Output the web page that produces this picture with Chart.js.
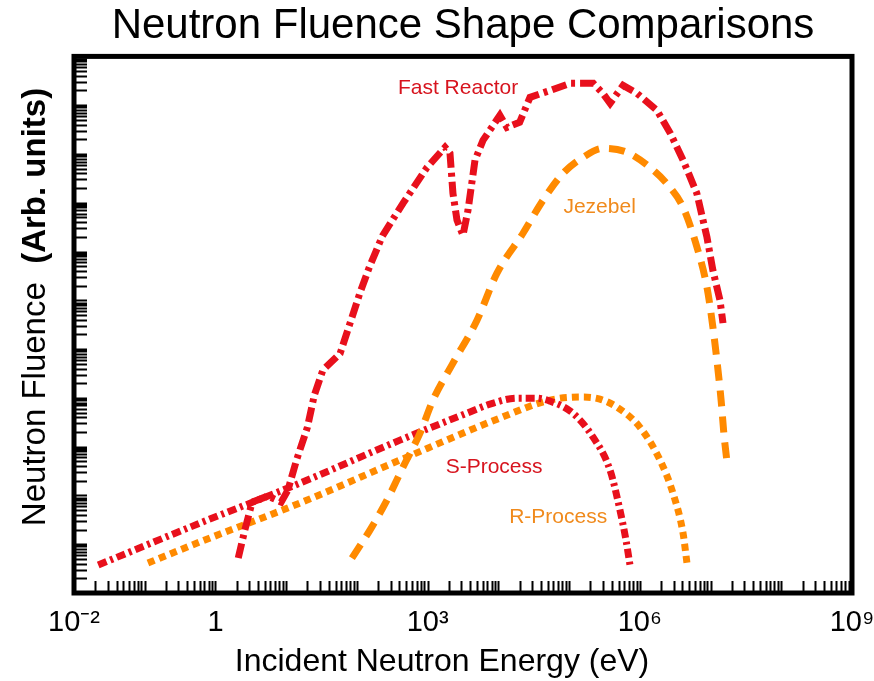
<!DOCTYPE html>
<html>
<head>
<meta charset="utf-8">
<title>Neutron Fluence Shape Comparisons</title>
<script src="https://cdn.jsdelivr.net/npm/chart.js@4.4.1/dist/chart.umd.min.js"></script>
<style>
  body { margin: 0; background: #fff; }
  canvas { display: block; }
</style>
</head>
<body>
<canvas id="grafico" width="874" height="681"></canvas>
<script>
// valores: energia en eV, fluencia en unidades arbitrarias
const fastEnergy = [2.1, 2.6, 3.3, 5.5, 8.5, 10.6, 14, 20, 25, 33, 58, 80, 110, 150, 230, 450, 980,
  1760, 2070, 2280, 2600, 3160, 3720, 4670, 6060, 1.05e4, 1.32e4, 2.0e4, 2.8e4, 5.4e4, 1.03e5,
  2.2e5, 3.0e5, 3.8e5, 5.8e5, 9.1e5, 1.75e6, 2.7e6, 4.1e6, 6.4e6, 8.9e6, 1.08e7, 1.36e7, 1.5e7];
const fastFluence = [5.2, 19.5, 73, 97, 73, 129, 531, 2520, 1.14e4, 3.7e4, 8.2e4, 3.4e5, 1.4e6,
  4.8e6, 2.1e7, 9.8e7, 5.3e8, 1.37e9, 1.03e9, 1.56e8, 4.4e7, 2.15e7, 7.0e7, 7.4e8, 1.9e9, 6.2e9,
  3.5e9, 4.45e9, 1.45e10, 2.0e10, 2.8e10, 2.8e10, 1.75e10, 1.09e10, 2.55e10, 1.75e10, 7.8e9,
  2.65e9, 7.4e8, 1.56e8, 1.96e7, 4.1e6, 1.0e6, 3.4e5];

const jezebelEnergy = [85, 153, 266, 448, 780, 1190, 2280, 4990, 9560, 2.23e4, 4.27e4, 8.2e4,
  1.57e5, 3.0e5, 6.6e5, 1.39e6, 2.67e6, 4.08e6, 6.43e6, 8.9e6, 1.08e7, 1.23e7, 1.41e7, 1.55e7, 1.71e7];
const jezebelFluence = [5.2, 19.5, 80, 381, 1900, 9000, 5.15e4, 3.9e5, 3.6e6, 2.37e7, 1.12e8, 4.0e8,
  8.5e8, 1.3e9, 1.08e9, 5.3e8, 2.07e8, 8.1e7, 1.22e7, 1.85e6, 2.8e5, 5.9e4, 9000, 1730, 483];

const sEnergy = [0.022, 0.6, 15.7, 406, 3600, 7610, 1.83e4, 3.3e4, 5.37e4, 1.13e5, 2.18e5, 3.79e5,
  5.24e5, 6.37e5, 7.26e5];
const sFluence = [3.75, 27, 179, 1360, 4870, 7450, 9880, 9880, 8580, 4870, 1570, 331, 50, 12.2, 3.75];

const rEnergy = [0.111, 0.6, 15.7, 406, 1.05e4, 5.37e4, 1.57e5, 2.73e5, 4.75e5, 1.0e6, 1.93e6,
  2.94e6, 4.08e6, 4.64e6];
const rFluence = [4.12, 11.1, 70, 531, 3850, 9000, 1.04e4, 9420, 6460, 2520, 531, 112, 17, 4.12];

const xTicks = [1e-2, 1, 1e3, 1e6, 1e9];
const xTickLabels = ["10⁻²", "1", "10³", "10⁶", "10⁹"];

const rojo = "#e8101c";
const naranja = "#ff8a00";
const fuente = "'Liberation Sans', Arial, Helvetica, sans-serif";

// etiquetas de las curvas (en coordenadas de datos)
const curveLabels = [
  { text: "Fast Reactor", x: 2690, y: 2.2e10, color: "#d7141e" },
  { text: "Jezebel", x: 2.7e5, y: 8.1e7, color: "#f08a1c" },
  { text: "S-Process", x: 8700, y: 380, color: "#d7141e" },
  { text: "R-Process", x: 7.0e4, y: 36, color: "#f08a1c" }
];

function puntos(xs, ys) {
  return xs.map((v, i) => ({ x: v, y: ys[i] }));
}

const marco = {
  id: "marco",
  afterDraw(chart) {
    const ctx = chart.ctx;
    const a = chart.chartArea;
    const sx = chart.scales.x;
    const sy = chart.scales.y;
    ctx.save();
    ctx.strokeStyle = "#000";
    ctx.lineWidth = 2;
    ctx.beginPath();
    for (let k = -2; k < 9; k++) {
      for (let m = 1; m < 10; m++) {
        const px = Math.round(sx.getPixelForValue(m * Math.pow(10, k))) + 0.5;
        ctx.moveTo(px, a.bottom);
        ctx.lineTo(px, a.bottom - 12);
      }
    }
    for (let k = 0; k < 11; k++) {
      for (let m = 1; m < 10; m++) {
        const py = Math.round(sy.getPixelForValue(m * Math.pow(10, k))) + 0.5;
        ctx.moveTo(a.left, py);
        ctx.lineTo(a.left + 13, py);
      }
    }
    ctx.stroke();
    ctx.lineWidth = 5;
    ctx.strokeRect(a.left, a.top, a.right - a.left, a.bottom - a.top);

    // etiquetas de curvas
    ctx.font = "21px " + fuente;
    ctx.textAlign = "center";
    ctx.textBaseline = "middle";
    curveLabels.forEach(l => {
      ctx.fillStyle = l.color;
      ctx.fillText(l.text, sx.getPixelForValue(l.x), sy.getPixelForValue(l.y));
    });

    // titulo eje x
    ctx.fillStyle = "#000";
    ctx.font = "32px " + fuente;
    ctx.fillText("Incident Neutron Energy (eV)", 442, 662);

    // titulo eje y (parte en negrita)
    const p1 = "Neutron Fluence  ";
    const p2 = "(Arb. units)";
    ctx.font = "33px " + fuente;
    const w1 = ctx.measureText(p1).width;
    ctx.font = "bold 33px " + fuente;
    const w2 = ctx.measureText(p2).width;
    ctx.translate(36, 307);
    ctx.rotate(-Math.PI / 2);
    ctx.textAlign = "left";
    ctx.font = "33px " + fuente;
    ctx.fillText(p1, -(w1 + w2) / 2, 0);
    ctx.font = "bold 33px " + fuente;
    ctx.fillText(p2, -(w1 + w2) / 2 + w1, 0);
    ctx.restore();
  }
};

window.onload = function(){
  let ctx = document.getElementById("grafico").getContext("2d");
  let grafico = new Chart(ctx, {
    type: "line",
    data: {
      datasets: [{
        label: "Fast Reactor",
        data: puntos(fastEnergy, fastFluence),
        borderColor: rojo,
        borderWidth: 7,
        borderDash: [15, 5, 4, 5],
        pointRadius: 0,
        tension: 0
      }, {
        label: "Jezebel",
        data: puntos(jezebelEnergy, jezebelFluence),
        borderColor: naranja,
        borderWidth: 7,
        borderDash: [16, 10],
        pointRadius: 0,
        cubicInterpolationMode: "monotone"
      }, {
        label: "S-Process",
        data: puntos(sEnergy, sFluence),
        borderColor: rojo,
        borderWidth: 7,
        borderDash: [9, 4, 3, 4],
        pointRadius: 0,
        cubicInterpolationMode: "monotone"
      }, {
        label: "R-Process",
        data: puntos(rEnergy, rFluence),
        borderColor: naranja,
        borderWidth: 7,
        borderDash: [7, 5],
        pointRadius: 0,
        cubicInterpolationMode: "monotone"
      }]
    },
    options: {
      responsive: false,
      animation: false,
      layout: { padding: { left: 0, right: 22, top: 0, bottom: 0 } },
      plugins: {
        legend: { display: false },
        tooltip: { enabled: false },
        title: {
          display: true,
          fullSize: false,
          text: "Neutron Fluence Shape Comparisons",
          color: "#000",
          font: { family: fuente, size: 42, weight: "normal" },
          padding: { top: 1, bottom: 5 }
        }
      },
      scales: {
        x: {
          type: "logarithmic",
          min: 1e-2,
          max: 1e9,
          grid: { display: false, drawTicks: false },
          border: { display: false },
          afterBuildTicks: s => { s.ticks = xTicks.map(v => ({ value: v })); },
          afterFit: s => { s.height = 88; s.paddingLeft = 0; s.paddingRight = 0; },
          ticks: {
            autoSkip: false,
            maxRotation: 0,
            padding: 13,
            color: "#000",
            font: { family: fuente, size: 29 },
            callback: v => xTickLabels[xTicks.indexOf(v)]
          }
        },
        y: {
          type: "logarithmic",
          min: 1,
          max: 1e11,
          grid: { display: false, drawTicks: false },
          border: { display: false },
          ticks: { display: false },
          afterFit: s => { s.width = 74; s.paddingTop = 0; s.paddingBottom = 0; }
        }
      }
    },
    plugins: [marco]
  });
}
</script>
</body>
</html>
